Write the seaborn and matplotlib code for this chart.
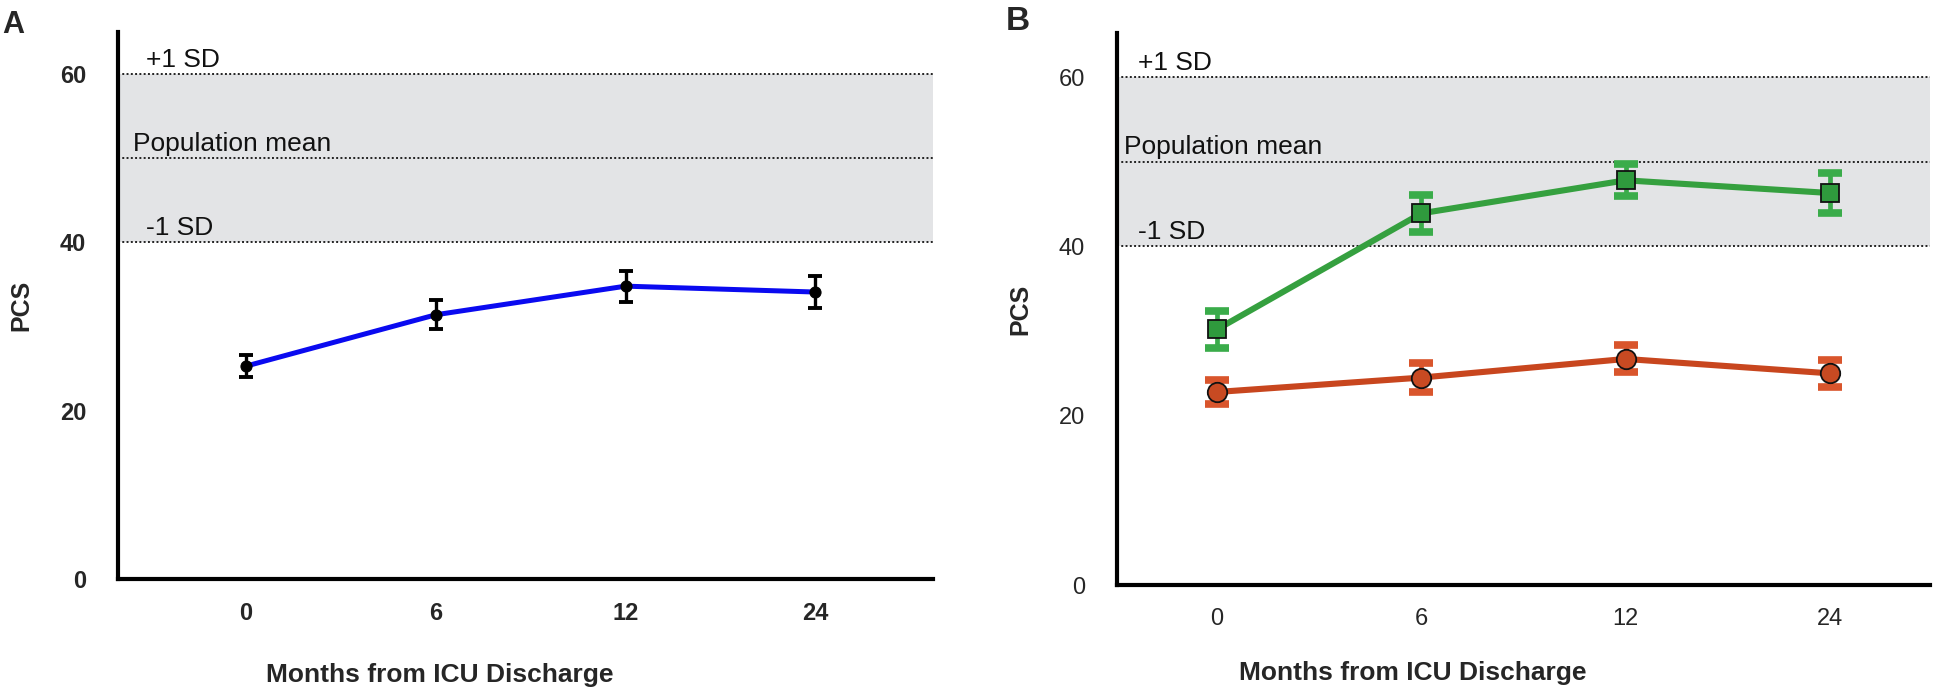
import numpy as np
import pandas as pd
import matplotlib
matplotlib.use("Agg")
import matplotlib.pyplot as plt
import seaborn as sns

# ---- data ----
months = ["0", "6", "12", "24"]
pcs_all = [25.3, 31.4, 34.8, 34.1]
err_all = [1.3, 1.7, 1.85, 1.9]
pcs_green = [30.2, 43.9, 47.8, 46.3]
err_green = [2.2, 2.2, 1.9, 2.4]
pcs_red = [22.8, 24.5, 26.7, 25.0]
err_red = [1.4, 1.7, 1.6, 1.6]
ref_lines = [60, 50, 40]
ref_labels = ["+1 SD", "Population mean", "-1 SD"]
yticks = [0, 20, 40, 60]

sns.set_style("white")
plt.rcParams["font.family"] = ["Liberation Sans", "DejaVu Sans"]

pos = np.arange(len(months))
dfA = pd.DataFrame({"pos": pos, "pcs": pcs_all, "err": err_all})
dfG = pd.DataFrame({"pos": pos, "pcs": pcs_green, "err": err_green})
dfR = pd.DataFrame({"pos": pos, "pcs": pcs_red, "err": err_red})

fig = plt.figure(figsize=(19.46, 6.92), dpi=100)
W, H = 1946, 692
axA = fig.add_axes([118 / W, 1 - 579 / H, 815 / W, (579 - 32) / H])
axB = fig.add_axes([1117 / W, 1 - 585 / H, 813 / W, (585 - 33) / H])


def style(ax, xlim, ytop, text_x, bold_ticks, lab_xy, ylab_x):
    ax.set_xlim(*xlim)
    ax.set_ylim(0, ytop)
    ax.axhspan(40, 60, color="#e3e4e6", zorder=0, lw=0)
    for yv in ref_lines:
        ax.axhline(yv, color="#222222", ls=(0, (1, 1.2)), lw=1.4, zorder=1)
    tx = [text_x + 0.07, text_x, text_x + 0.07]
    for yv, lab, xx in zip(ref_lines, ref_labels, tx):
        ax.text(xx, yv + 0.85, lab, fontsize=19, color="#111111",
                ha="left", va="baseline")
    for s in ["top", "right"]:
        ax.spines[s].set_visible(False)
    for s in ["left", "bottom"]:
        ax.spines[s].set_linewidth(3.0)
        ax.spines[s].set_color("black")
        ax.spines[s].set_capstyle("projecting")
    ax.set_xticks(pos)
    ax.set_xticklabels(months)
    ax.set_yticks(yticks)
    ax.tick_params(axis="y", direction="out", length=4, width=4.3, pad=19,
                   labelsize=17, color="black")
    ax.tick_params(axis="x", direction="out", length=4.5, width=4.3, pad=12,
                   labelsize=17, color="black")
    w = "bold" if bold_ticks else "normal"
    for t in ax.get_xticklabels() + ax.get_yticklabels():
        t.set_fontweight(w)
    ax.set_xlabel("Months from ICU Discharge", fontsize=19, fontweight="bold",
                  va="baseline", ha="center")
    ax.xaxis.set_label_coords(*lab_xy)
    ax.set_ylabel("PCS", fontsize=18, fontweight="bold", va="center")
    ax.yaxis.set_label_coords(ylab_x, 0.5)


# Panel A
style(axA, (-0.675, 3.62), 65.0, -0.596, True, (0.395, -0.188), -0.118)
sns.lineplot(data=dfA, x="pos", y="pcs", ax=axA, color="#0a0af0",
             linewidth=3.6, marker="o", markersize=8,
             markerfacecolor="black", markeredgecolor="black", zorder=3)
axA.errorbar(dfA["pos"], dfA["pcs"], yerr=dfA["err"], fmt="none",
             ecolor="black", elinewidth=2.4, capsize=5, capthick=2.8, zorder=4)
axA.set_xlabel("Months from ICU Discharge", fontsize=19, fontweight="bold",
               va="baseline", ha="center")
axA.xaxis.set_label_coords(0.395, -0.188)
axA.set_ylabel("PCS", fontsize=18, fontweight="bold", va="center")
axA.yaxis.set_label_coords(-0.118, 0.5)

# Panel B
style(axB, (-0.49, 3.49), 65.2, -0.455, False, (0.364, -0.172), -0.119)
for df, ec in [(dfG, "#3aac4a"), (dfR, "#d9552c")]:
    _, caps, bars = axB.errorbar(df["pos"], df["pcs"], yerr=df["err"],
                                 fmt="none", ecolor=ec, elinewidth=3.4,
                                 capsize=8.5, capthick=5.5, zorder=2)
    for c in caps:
        c.set_solid_capstyle("round")
sns.lineplot(data=dfG, x="pos", y="pcs", ax=axB, color="#35a03f",
             linewidth=4.4, marker="s", markersize=13.5,
             markerfacecolor="#2f9a3d", markeredgecolor="#111111",
             markeredgewidth=1.3, zorder=3)
sns.lineplot(data=dfR, x="pos", y="pcs", ax=axB, color="#c8461e",
             linewidth=4.4, marker="o", markersize=14,
             markerfacecolor="#c84a22", markeredgecolor="#111111",
             markeredgewidth=1.3, zorder=3)
axB.set_xlabel("Months from ICU Discharge", fontsize=19, fontweight="bold",
               va="baseline", ha="center")
axB.xaxis.set_label_coords(0.364, -0.172)
axB.set_ylabel("PCS", fontsize=18, fontweight="bold", va="center")
axB.yaxis.set_label_coords(-0.119, 0.5)

fig.text(2 / W, 1 - 10 / H, "A", fontsize=22, fontweight="bold", ha="left", va="top")
fig.text(1006 / W, 1 - 6 / H, "B", fontsize=24, fontweight="bold", ha="left", va="top")

fig.savefig("out.png", dpi=100)
